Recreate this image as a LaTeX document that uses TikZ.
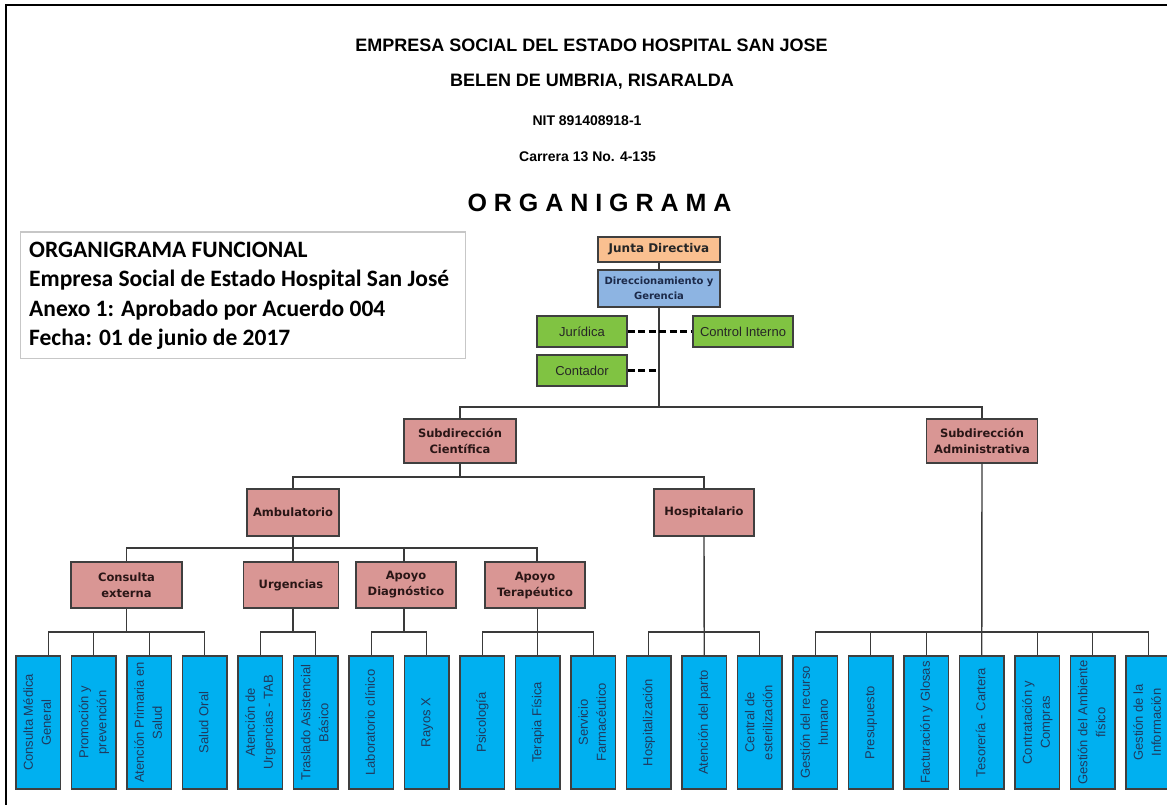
\documentclass[tikz,border=0pt]{standalone}
\usepackage{fontspec}
\setmainfont{Liberation Sans}
\newfontfamily\vfont{DejaVu Sans}
\newfontfamily\cfont{Carlito}
\usetikzlibrary{calc}
\definecolor{orangec}{HTML}{FAC090}
\definecolor{bluec}{HTML}{8DB4E2}
\definecolor{greenc}{HTML}{80C342}
\definecolor{pinkc}{HTML}{D99694}
\definecolor{leafc}{HTML}{00B0F0}
\definecolor{bordc}{HTML}{3F3F3F}
\definecolor{linec}{HTML}{3A3A3A}
\definecolor{leaftext}{HTML}{1F3A5F}
\definecolor{pinktext}{HTML}{2A1616}
\definecolor{dirtext}{HTML}{1C2A4A}
\tikzset{
  box/.style={draw=bordc, line width=1.3pt, inner sep=0pt, align=center},
  pinkbox/.style={box, fill=pinkc, text=pinktext, font=\vfont\bfseries\fontsize{11.5}{16}\selectfont},
  greenbox/.style={box, fill=greenc, text=black!85, minimum width=90pt, minimum height=31pt, font=\fontsize{13}{15}\selectfont},
  leaf/.style={box, fill=leafc, text=leaftext, minimum width=44.5pt, minimum height=133pt, font=\fontsize{13}{18}\selectfont},
  conn/.style={draw=linec, line width=1.4pt},
  dashconn/.style={draw=black, line width=2.4pt, dash pattern=on 7pt off 3.5pt},
  titletext/.style={font=\bfseries\fontsize{#1}{#1}\selectfont, inner sep=0pt}
}
\newcommand\leafnode[2]{\node[leaf] (l#1) at ({38.25+55.5*#1},722.5) {\rotatebox{90}{\begin{tabular}{@{}c@{}}#2\end{tabular}}};}
\begin{document}
\begin{tikzpicture}[x=1pt,y=-1pt]
\useasboundingbox (0,0) rectangle (1167,805);
\clip (0,0) rectangle (1167,805);
\fill[white] (0,0) rectangle (1167,805);
\draw[line width=2.5pt] (6,815) -- (6,5) -- (1180,5);

% titles
\node[titletext=18] (t1) at (591.5,45) {EMPRESA SOCIAL DEL ESTADO HOSPITAL SAN JOSE};
\node[titletext=18] (t2) at (592,82) {BELEN DE UMBRIA, RISARALDA};
\node[titletext=14] (t3) at (587,121) {NIT 891408918-1};
\node[titletext=14] (t4) at (587.5,157) {Carrera 13 No. 4-135};
\node[titletext=25] (t5) at (599.5,203) {O R G A N I G R A M A};

% info box
\node[draw=black!22, line width=1pt, minimum width=445pt, minimum height=126pt, inner sep=0pt] (info) at (242.5,295) {};
\node[anchor=west, align=left, inner sep=0pt, font=\cfont\bfseries\fontsize{23.5}{29.5}\selectfont] (infotext) at (29,296)
  {ORGANIGRAMA FUNCIONAL\\Empresa Social de Estado Hospital San José\\Anexo 1: Aprobado por Acuerdo 004\\Fecha: 01 de junio de 2017};

% top
\node[box, fill=orangec, minimum width=122pt, minimum height=25pt, text=black!85, font=\vfont\bfseries\fontsize{12}{13}\selectfont] (junta) at (659,249.5) {Junta Directiva};
\node[box, fill=bluec, minimum width=122pt, minimum height=37pt, text=dirtext, font=\vfont\bfseries\fontsize{10}{15}\selectfont] (dir) at (659,288.5) {Direccionamiento y\\Gerencia};
\node[greenbox] (jur) at (582,331.5) {Jurídica};
\node[greenbox, minimum width=100pt] (ctrl) at (743,331.5) {Control Interno};
\node[greenbox] (cont) at (582,370.5) {Contador};

\coordinate (tr) at (659,407);
\draw[conn] (junta) -- (dir);
\draw[conn] (dir.south) -- (tr);
\draw[dashconn] (jur.east) -- (ctrl.west);
\draw[dashconn] (cont.east) -- (cont.east -| tr);

% level 1
\node[pinkbox, minimum width=112pt, minimum height=44pt] (cient) at (460,441) {Subdirección\\Científica};
\node[pinkbox, minimum width=111pt, minimum height=44pt] (admin) at (982,441) {Subdirección\\Administrativa};
\draw[conn] (cient.north) |- (tr) -| (admin.north);

% level 2
\node[pinkbox, minimum width=92pt, minimum height=47pt] (amb) at (293,512.5) {Ambulatorio};
\node[pinkbox, minimum width=100pt, minimum height=47pt] (hosp) at (704,512.5) {Hospitalario};
\coordinate (b2) at (0,477);
\draw[conn] (cient.south) -- (cient.south |- b2);
\draw[conn] (amb.north) |- (hosp.north |- b2) -- (hosp.north);

% level 3
\node[pinkbox, minimum width=111pt, minimum height=46pt] (ce) at (126.5,585) {Consulta\\externa};
\node[pinkbox, minimum width=95pt, minimum height=46pt] (urg) at (291,585) {Urgencias};
\node[pinkbox, minimum width=100pt, minimum height=46pt] (ad) at (406,585) {Apoyo\\Diagnóstico};
\node[pinkbox, minimum width=100pt, minimum height=46pt] (at) at (535,585) {Apoyo\\Terapéutico};
\coordinate (b3) at (0,548);
\coordinate (j3) at (293,548);
\draw[conn] (amb.south) -- (j3);
\draw[conn] (j3) -- (j3 |- urg.north);
\draw[conn] (ce.north) |- (537,548) -- (537,562);
\draw[conn] (404,548) -- (404,562);

% leaves
\leafnode{0}{Consulta Médica\\General}
\leafnode{1}{Promoción y\\prevención}
\leafnode{2}{Atención Primaria en\\Salud}
\leafnode{3}{Salud Oral}
\leafnode{4}{Atención de\\Urgencias - TAB}
\leafnode{5}{Traslado Asistencial\\Básico}
\leafnode{6}{Laboratorio clínico}
\leafnode{7}{Rayos X}
\leafnode{8}{Psicología}
\leafnode{9}{Terapia Física}
\leafnode{10}{Servicio\\Farmacéutico}
\leafnode{11}{Hospitalización}
\leafnode{12}{Atención del parto}
\leafnode{13}{Central de\\esterilización}
\leafnode{14}{Gestión del recurso\\humano}
\leafnode{15}{Presupuesto}
\leafnode{16}{Facturación y Glosas}
\leafnode{17}{Tesorería - Cartera}
\leafnode{18}{Contratación y\\Compras}
\leafnode{19}{Gestión del Ambiente\\físico}
\leafnode{20}{Gestión de la\\Información}

\coordinate (b4) at (0,632);
% consulta externa
\draw[conn] (ce.south) -- (ce.south |- b4);
\draw[conn] ([xshift=10pt]l0.north) |- (l3.north |- b4) -- (l3.north);
\foreach \i in {1,2} {\draw[conn] (l\i.north) -- (l\i.north |- b4);}
% urgencias
\draw[conn] (urg.south -| j3) -- (j3 |- b4);
\draw[conn] (l4.north) |- (l5.north |- b4) -- (l5.north);
% apoyo diagnostico
\draw[conn] (404,608) -- (404,632);
\draw[conn] (l6.north) |- (l7.north |- b4) -- (l7.north);
% apoyo terapeutico
\draw[conn] (at.south -| l9.north) -- (l9.north);
\draw[conn] (l8.north) |- (l10.north |- b4) -- (l10.north);
% hospitalario
\draw[conn] (hosp.south) -- (l12.north);
\draw[conn] (l11.north) |- (l13.north |- b4) -- (l13.north);
% administrativa
\draw[conn] (admin.south) -- (l17.north);
\draw[conn] (l14.north) |- (l20.north |- b4) -- (l20.north);
\foreach \i in {15,16,18,19} {\draw[conn] (l\i.north) -- (l\i.north |- b4);}
\end{tikzpicture}
\end{document}
